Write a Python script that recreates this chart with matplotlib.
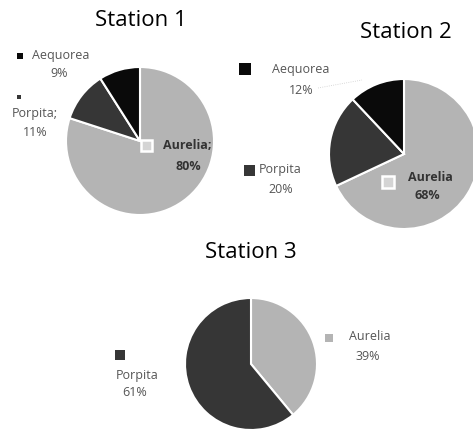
import matplotlib.pyplot as plt

species = ["Aurelia", "Porpita", "Aequorea"]
colors = ["#b4b4b4", "#363636", "#0a0a0a"]

station1 = [80, 11, 9]
station2 = [68, 20, 12]
station3 = [39, 61]

W, H = 473, 429
plt.rcParams['font.family'] = ['Open Sans', 'DejaVu Sans']
fig = plt.figure(figsize=(W / 100, H / 100), dpi=100)


def px(x, y):
    return x / W, 1 - y / H


def pie_axes(cx, cy, r, values, cols):
    ax = fig.add_axes([(cx - r) / W, 1 - (cy + r) / H, 2 * r / W, 2 * r / H])
    ax.pie(values, colors=cols, startangle=90, counterclock=False,
           wedgeprops=dict(edgecolor="white", linewidth=1.5))
    ax.set_xlim(-1, 1)
    ax.set_ylim(-1, 1)
    ax.set_aspect("equal")
    ax.axis("off")
    return ax


def label(x, y, s, size=9, weight="normal", ha="center", color="#555555"):
    fig.text(*px(x, y), s, fontsize=size, ha=ha, va="center",
             fontweight=weight, color=color)


def key(x, y, c, size=6):
    # size = side of the square in pixels
    fig.add_artist(plt.Rectangle((x / W - size / 2 / W, 1 - y / H - size / 2 / H),
                                 size / W, size / H, color=c, ec="none"))


def marker(x, y, size=12):
    fig.add_artist(plt.Rectangle((x / W - size / 2 / W, 1 - y / H - size / 2 / H),
                                 size / W, size / H, fc="#d4d4d4", ec="white", lw=1.8))


# Station 1
pie_axes(140, 141, 74, station1, colors)
fig.text(*px(141, 20), "Station 1", fontsize=16, ha="center", va="center")
key(20, 56, colors[2], 6)
label(61, 56, species[2])
label(59, 74, f"{station1[2]}%")
key(19, 97, colors[1], 4)
label(35, 113, species[1] + ";")
label(35, 132, f"{station1[1]}%")
marker(146, 145, 11)
label(187, 146, species[0] + ";", weight="bold", color="#333333")
label(188, 166, f"{station1[0]}%", weight="bold", color="#333333")

# Station 2
pie_axes(404, 154, 75, station2, colors)
fig.text(*px(406, 32), "Station 2", fontsize=16, ha="center", va="center")
key(245, 69, colors[2], 12)
label(301, 70, species[2])
label(301, 91, f"{station2[2]}%")
fig.add_artist(plt.Line2D([px(318, 88)[0], px(362, 80)[0]],
                          [px(318, 88)[1], px(362, 80)[1]],
                          color="#cccccc", lw=0.6, ls=":"))
key(249, 171, colors[1], 11)
label(280, 170, species[1])
label(281, 189, f"{station2[1]}%")
marker(388, 182, 12)
label(430, 178, species[0], weight="bold", color="#333333")
label(427, 195, f"{station2[0]}%", weight="bold", color="#333333")

# Station 3
pie_axes(251, 364, 66, station3, [colors[0], colors[1]])
fig.text(*px(251, 252), "Station 3", fontsize=16, ha="center", va="center")
key(120, 355, colors[1], 10)
label(137, 375, species[1])
label(135, 393, f"{station3[1]}%")
key(329, 338, colors[0], 8)
label(370, 337, species[0])
label(368, 357, f"{station3[0]}%")

fig.savefig("out.png", dpi=100)
